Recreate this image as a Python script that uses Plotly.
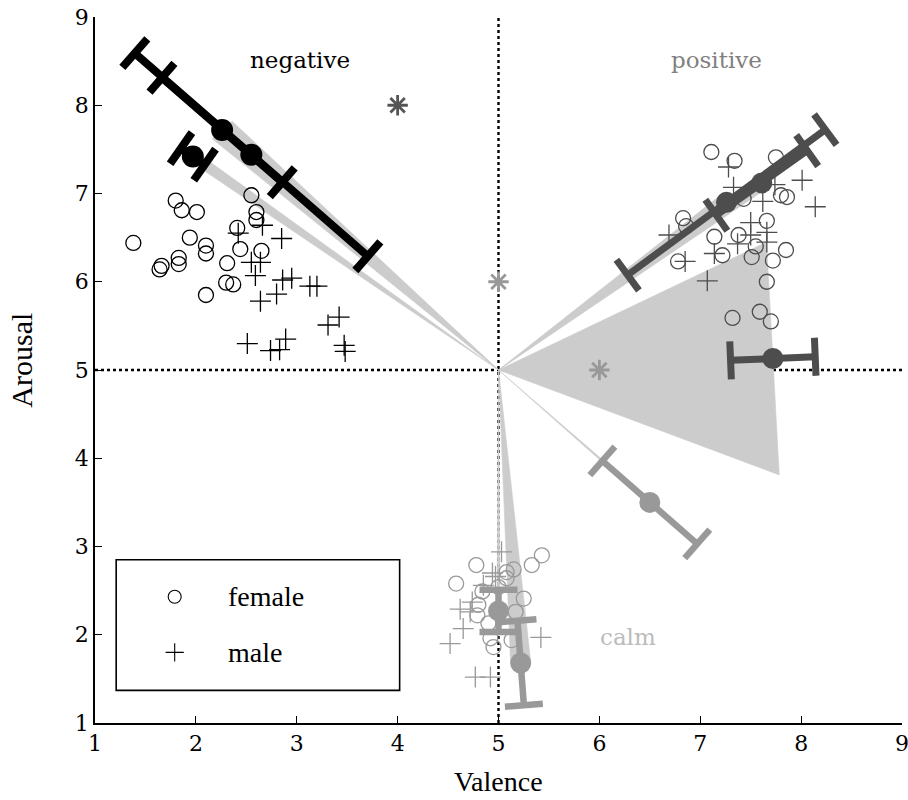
import numpy as np
import plotly.graph_objects as go

# ---------------- canvas / axes geometry ----------------
W, H = 908, 800
MARGIN = dict(l=95, r=6, t=17, b=77)
X_RANGE = [1, 9]
Y_RANGE = [1, 9]
KX = (W - MARGIN["l"] - MARGIN["r"]) / (X_RANGE[1] - X_RANGE[0])   # px per valence unit
KY = (H - MARGIN["t"] - MARGIN["b"]) / (Y_RANGE[1] - Y_RANGE[0])   # px per arousal unit
CENTER = (5.0, 5.0)

# ---------------- individual ratings ----------------
# negative
neg_f_val = [1.38, 1.80, 1.86, 2.01, 1.94, 1.66, 1.64, 1.83, 1.83, 2.10, 2.10, 2.10,
             2.31, 2.30, 2.37, 2.41, 2.44, 2.55, 2.60, 2.60, 2.65]
neg_f_aro = [6.44, 6.92, 6.81, 6.79, 6.50, 6.18, 6.14, 6.27, 6.20, 6.41, 6.32, 5.85,
             6.21, 5.99, 5.97, 6.61, 6.37, 6.98, 6.79, 6.70, 6.35]
neg_m_val = [2.66, 2.42, 2.85, 2.55, 2.64, 2.59, 2.86, 2.95, 3.13, 3.20, 2.80, 2.64,
             3.31, 3.42, 2.51, 2.74, 2.83, 2.89, 3.47, 3.48]
neg_m_aro = [6.64, 6.55, 6.49, 6.22, 6.22, 6.07, 6.02, 6.04, 5.95, 5.95, 5.86, 5.78,
             5.51, 5.60, 5.30, 5.22, 5.23, 5.35, 5.28, 5.21]

# positive
pos_f_val = [7.11, 7.34, 7.75, 7.80, 7.86, 7.43, 6.83, 6.86, 7.14, 7.38, 7.66, 7.55,
             7.85, 7.22, 7.51, 7.72, 6.78, 7.66, 7.32, 7.59, 7.70]
pos_f_aro = [7.47, 7.37, 7.41, 6.98, 6.96, 6.94, 6.72, 6.63, 6.51, 6.53, 6.69, 6.40,
             6.36, 6.30, 6.28, 6.24, 6.23, 6.00, 5.59, 5.66, 5.55]
pos_m_val = [7.28, 7.33, 7.74, 8.01, 8.14, 7.62, 7.50, 7.50, 7.66, 7.66, 7.37, 6.69,
             7.14, 6.85, 7.07]
pos_m_aro = [7.30, 7.07, 7.10, 7.15, 6.85, 6.91, 6.67, 6.53, 6.56, 6.45, 6.43, 6.53,
             6.32, 6.23, 6.01]

# calm
calm_f_val = [4.78, 4.58, 5.08, 5.15, 5.33, 5.43, 5.08, 5.00, 4.84, 5.25, 4.80, 4.79,
              5.17, 4.90, 4.92, 4.95, 5.13]
calm_f_aro = [2.79, 2.58, 2.71, 2.74, 2.79, 2.90, 2.64, 2.54, 2.49, 2.41, 2.34, 2.22,
              2.26, 2.13, 1.96, 1.86, 1.94]
calm_m_val = [5.03, 4.94, 4.97, 4.85, 4.74, 4.62, 4.65, 4.52, 5.42, 4.77, 4.92, 4.72]
calm_m_aro = [2.94, 2.70, 2.66, 2.56, 2.37, 2.29, 2.07, 1.90, 1.97, 1.52, 1.52, 2.26]

# ---------------- condition means ----------------
# sd: spread along the radial direction, spread_ang: half-width across it
neg_mean_val = [2.26, 2.55, 1.97]
neg_mean_aro = [7.72, 7.44, 7.42]
neg_sd = [0.84, 1.63, 0.15]
neg_spread_ang = [0.14, 0.10, 0.06]

pos_mean_val = [7.26, 7.61, 7.72]
pos_mean_aro = [6.90, 7.12, 5.13]
pos_sd = [1.28, 0.58, 0.42]
pos_spread_ang = [0.10, 0.08, 1.32]

calm_mean_val = [5.00, 5.22, 6.50]
calm_mean_aro = [2.27, 1.68, 3.50]
calm_sd = [0.24, 0.48, 0.665]
calm_spread_ang = [0.015, 0.10, 0.015]

# target stimulus positions
target_val = [4.0, 5.0, 6.0]
target_aro = [8.0, 6.0, 5.0]
target_colors = ["#555555", "#999999", "#999999"]

# quadrant labels
quad_text = ["negative", "positive", "calm"]
quad_val = [3.03, 7.16, 6.28]
quad_aro = [8.51, 8.51, 1.97]
quad_colors = ["#000000", "#808080", "#bbbbbb"]

# ---------------- styles ----------------
NEG_C = "#000000"
POS_C = "#4d4d4d"
CALM_C = "#999999"
WEDGE_C = "#cccccc"

groups = [
    dict(color=NEG_C, fv=neg_f_val, fa=neg_f_aro, mv=neg_m_val, ma=neg_m_aro,
         mean_v=neg_mean_val, mean_a=neg_mean_aro, sd=neg_sd, ang=neg_spread_ang,
         bar_colors=[NEG_C] * 3, bar_w=8, dot=22),
    dict(color=POS_C, fv=pos_f_val, fa=pos_f_aro, mv=pos_m_val, ma=pos_m_aro,
         mean_v=pos_mean_val, mean_a=pos_mean_aro, sd=pos_sd, ang=pos_spread_ang,
         bar_colors=[POS_C] * 3, bar_w=7, dot=21),
    dict(color=CALM_C, fv=calm_f_val, fa=calm_f_aro, mv=calm_m_val, ma=calm_m_aro,
         mean_v=calm_mean_val, mean_a=calm_mean_aro, sd=calm_sd, ang=calm_spread_ang,
         bar_colors=[CALM_C] * 3, bar_w=6.5, dot=21),
]

CAP_HALF_PX = 19

fig = go.Figure()


def radial(mv, ma):
    d = np.array([mv - CENTER[0], ma - CENTER[1]])
    return d / np.linalg.norm(d)


# wedges: triangle from the neutral point to the mean, widened across the radial axis
for g in groups:
    for mv, ma, h in zip(g["mean_v"], g["mean_a"], g["ang"]):
        r = radial(mv, ma)
        perp = np.array([-r[1], r[0]])
        p1 = np.array([mv, ma]) + h * perp
        p2 = np.array([mv, ma]) - h * perp
        fig.add_trace(go.Scatter(
            x=[CENTER[0], p1[0], p2[0], CENTER[0]],
            y=[CENTER[1], p1[1], p2[1], CENTER[1]],
            mode="lines", fill="toself", fillcolor=WEDGE_C,
            line=dict(width=0.6, color=WEDGE_C), hoverinfo="skip", showlegend=False))

# individual ratings
for g in groups:
    fig.add_trace(go.Scatter(
        x=g["fv"], y=g["fa"], mode="markers", showlegend=False,
        marker=dict(symbol="circle-open", size=15, color=g["color"],
                    line=dict(width=1.3, color=g["color"]))))
    fig.add_trace(go.Scatter(
        x=g["mv"], y=g["ma"], mode="markers", showlegend=False,
        marker=dict(symbol="cross-thin-open", size=15, color=g["color"],
                    line=dict(width=1.3, color=g["color"]))))

# means with radial error bars (calm first, black last so it sits on top)
for g in [groups[2], groups[1], groups[0]]:
    for mv, ma, sd, col in zip(g["mean_v"], g["mean_a"], g["sd"], g["bar_colors"]):
        r = radial(mv, ma)
        m = np.array([mv, ma])
        lo, hi = m - sd * r, m + sd * r
        rp = np.array([r[0] * KX, r[1] * KY])
        rp /= np.linalg.norm(rp)
        pp = np.array([-rp[1], rp[0]]) * CAP_HALF_PX
        cap = np.array([pp[0] / KX, pp[1] / KY])
        xs = [lo[0], hi[0], None,
              lo[0] - cap[0], lo[0] + cap[0], None,
              hi[0] - cap[0], hi[0] + cap[0]]
        ys = [lo[1], hi[1], None,
              lo[1] - cap[1], lo[1] + cap[1], None,
              hi[1] - cap[1], hi[1] + cap[1]]
        fig.add_trace(go.Scatter(x=xs, y=ys, mode="lines", showlegend=False,
                                 line=dict(color=col, width=g["bar_w"])))
        fig.add_trace(go.Scatter(x=[mv], y=[ma], mode="markers", showlegend=False,
                                 marker=dict(symbol="circle", size=g["dot"], color=col)))

# target positions
fig.add_trace(go.Scatter(
    x=target_val, y=target_aro, mode="markers", showlegend=False,
    marker=dict(symbol="asterisk-open", size=17, color=target_colors,
                line=dict(width=2.8, color=target_colors))))

# legend box
legend_symbols = ["circle-open", "cross-thin-open"]
legend_labels = ["female", "male"]
legend_aro = [2.43, 1.80]
fig.add_trace(go.Scatter(
    x=[1.79, 1.79], y=legend_aro, mode="markers", showlegend=False,
    marker=dict(symbol=legend_symbols, size=13, color="#000000",
                line=dict(width=1.1, color="#000000"))))

shapes = [
    dict(type="line", x0=5, x1=5, y0=1, y1=9, xref="x", yref="y", layer="below",
         line=dict(color="black", width=2.4, dash="dot")),
    dict(type="line", x0=1, x1=9, y0=5, y1=5, xref="x", yref="y", layer="below",
         line=dict(color="black", width=2.4, dash="dot")),
    dict(type="rect", x0=1.21, x1=4.02, y0=1.37, y1=2.85, xref="x", yref="y",
         line=dict(color="black", width=1.6), fillcolor="rgba(255,255,255,1)",
         layer="below"),
]

annotations = []
for t, v, a, c in zip(quad_text, quad_val, quad_aro, quad_colors):
    annotations.append(dict(x=v, y=a, xref="x", yref="y", text=t, showarrow=False,
                            font=dict(family="DejaVu Serif", size=23, color=c),
                            xanchor="center", yanchor="middle"))
for lab, a in zip(legend_labels, legend_aro):
    annotations.append(dict(x=2.30, y=a, xref="x", yref="y", text=lab, showarrow=False,
                            font=dict(family="Liberation Serif", size=28, color="black"),
                            xanchor="left", yanchor="middle"))
annotations.append(dict(x=0.5, y=-0.083, xref="paper", yref="paper", text="Valence",
                        showarrow=False, xanchor="center", yanchor="middle",
                        font=dict(family="Liberation Serif", size=28, color="black")))
annotations.append(dict(x=-0.091, y=0.514, xref="paper", yref="paper", text="Arousal",
                        showarrow=False, xanchor="center", yanchor="middle", textangle=-90,
                        font=dict(family="Liberation Serif", size=30, color="black")))

axis_common = dict(showgrid=False, zeroline=False, showline=True,
                   linecolor="black", linewidth=1.5, ticks="inside", ticklen=7,
                   tickwidth=1.3, tickcolor="black", mirror=False,
                   tickfont=dict(family="DejaVu Serif", size=22, color="black"),
                   ticklabeloverflow="allow", automargin=False)

fig.update_layout(
    width=W, height=H, margin=MARGIN,
    paper_bgcolor="white", plot_bgcolor="white",
    shapes=shapes, annotations=annotations,
    xaxis=dict(axis_common, range=X_RANGE, tickvals=list(range(1, 10))),
    yaxis=dict(axis_common, range=Y_RANGE, tickvals=list(range(1, 10))),
)

fig.write_html("out.html")
